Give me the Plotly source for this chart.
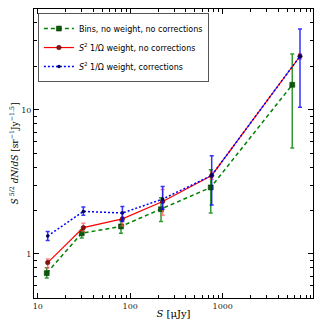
import plotly.graph_objects as go
import numpy as np

# flux bins (uJy)
x_bins = [12.5, 29.9, 79.4, 215, 742, 5650]
x_wt = [12.8, 31.1, 82.2, 224, 760, 6850]

# Bins, no weight, no corrections
y_bins = [0.735, 1.39, 1.55, 2.04, 2.89, 14.9]
y_bins_lo = [0.68, 1.29, 1.39, 1.68, 1.92, 5.42]
y_bins_hi = [0.80, 1.47, 1.70, 2.45, 3.83, 24.4]

# S^2 1/Omega weight, no corrections
y_red = [0.87, 1.52, 1.75, 2.31, 3.5, 23.5]
y_red_lo = [0.80, 1.43, 1.56, 1.85, 3.3, 22.5]
y_red_hi = [0.92, 1.63, 1.95, 2.80, 3.7, 24.5]

# S^2 1/Omega weight, corrections
y_blue = [1.33, 1.97, 1.92, 2.40, 3.5, 23.5]
y_blue_lo = [1.24, 1.85, 1.68, 2.04, 2.18, 10.4]
y_blue_hi = [1.43, 2.11, 2.13, 2.93, 4.79, 36.3]


def err(y, lo, hi):
    y = np.array(y)
    return dict(type='data', symmetric=False,
                array=list(np.array(hi) - y), arrayminus=list(y - np.array(lo)))


fig = go.Figure()
fig.add_trace(go.Scatter(
    x=x_bins, y=y_bins, mode='lines+markers',
    name='Bins, no weight, no corrections',
    line=dict(color='green', dash='4px,3px', width=1.5),
    marker=dict(symbol='square', size=5, color='#0a5a0a', line=dict(color='#003300', width=0.5)),
    error_y=dict(err(y_bins, y_bins_lo, y_bins_hi), color='rgba(0,128,0,0.8)', thickness=1.5, width=2)))
fig.add_trace(go.Scatter(
    x=x_wt, y=y_red, mode='lines+markers',
    name='<i>S</i><sup>2</sup> 1/Ω weight, no corrections',
    line=dict(color='red', width=1.2),
    marker=dict(symbol='circle', size=4.5, color='#8b1010', line=dict(color='#400000', width=0.5)),
    error_y=dict(err(y_red, y_red_lo, y_red_hi), color='rgba(255,80,80,0.7)', thickness=1.5, width=2)))
fig.add_trace(go.Scatter(
    x=x_wt, y=y_blue, mode='lines+markers',
    name='<i>S</i><sup>2</sup> 1/Ω weight, corrections',
    line=dict(color='blue', dash='2px,2px', width=1.5),
    marker=dict(symbol='circle', size=3.5, color='#000060'),
    error_y=dict(err(y_blue, y_blue_lo, y_blue_hi), color='rgba(0,0,255,0.8)', thickness=1.5, width=2)))

axis_common = dict(
    type='log', showgrid=False, zeroline=False, automargin=False,
    showline=True, linecolor='black', linewidth=1, mirror='ticks',
    ticks='inside', ticklen=5, tickcolor='black', tickwidth=1,
    tickfont=dict(family='DejaVu Serif', size=8, color='#222'),
    minor=dict(ticks='inside', ticklen=3, tickcolor='black', tickwidth=0.8, dtick='D1', showgrid=False),
)

# the page body adds an 8px offset, so the figure is 316 wide/tall
fig.update_layout(
    width=316, height=316,
    paper_bgcolor='white', plot_bgcolor='white',
    margin=dict(l=26, r=11, t=1, b=26),
    font=dict(family='DejaVu Sans', size=9, color='black'),
    xaxis=dict(axis_common, range=[np.log10(9.1), np.log10(9470)],
               tickvals=[10, 100, 1000], ticktext=['10', '100', '1000'],
               title=dict(text='<i>S</i> [μJy]', font=dict(family='DejaVu Serif', size=10), standoff=0)),
    yaxis=dict(axis_common, range=[np.log10(0.494), np.log10(50)],
               tickvals=[1, 10], ticktext=['1', '10'],
               title=dict(text='<i>S</i><sup> 5/2</sup> <i>dN</i>/<i>dS</i> [sr<sup>−1</sup>Jy<sup>−1.5</sup>]',
                          font=dict(family='DejaVu Serif', size=9), standoff=2)),
    legend=dict(x=0.014, y=0.986, xanchor='left', yanchor='top',
                bgcolor='white', bordercolor='#555', borderwidth=1,
                font=dict(family='DejaVu Sans', size=8), tracegroupgap=0,
                itemwidth=30),
)

fig.write_html("out.html")
